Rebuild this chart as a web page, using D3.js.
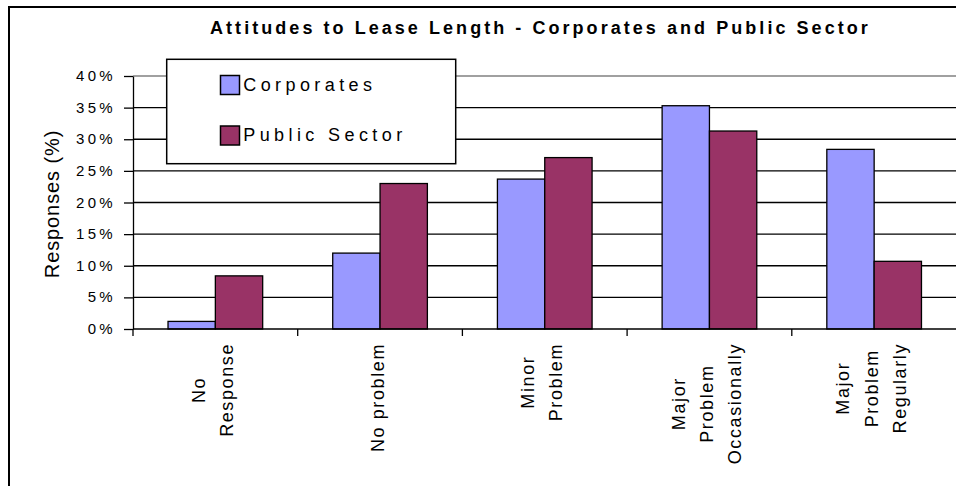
<!DOCTYPE html>
<html>
<head>
<meta charset="utf-8">
<script src="https://cdn.jsdelivr.net/npm/d3@7"></script>
<style>
  html, body { margin: 0; padding: 0; background: #fff; }
  svg { display: block; font-family: "Liberation Sans", Arial, sans-serif; }
</style>
</head>
<body>
<svg id="chart" width="956" height="486"></svg>
<script>
// Survey responses on attitudes to lease length (percent of respondents)
const categories = ["No Response", "No problem", "Minor Problem", "Major Problem Occasionally", "Major Problem Regularly"];
const categoryLines = [["No", "Response"], ["No problem"], ["Minor", "Problem"], ["Major", "Problem", "Occasionally"], ["Major", "Problem", "Regularly"]];
const seriesNames = ["Corporates", "Public Sector"];
const corporates = [1.2, 12.0, 23.7, 35.3, 28.4];
const publicSector = [8.4, 23.0, 27.1, 31.3, 10.7];
const yTicks = [0, 5, 10, 15, 20, 25, 30, 35, 40];
const titleText = "Attitudes to Lease Length - Corporates and Public Sector";
const yTitle = "Responses (%)";

const colors = { "Corporates": "#9999ff", "Public Sector": "#993366" };
const seriesValues = { "Corporates": corporates, "Public Sector": publicSector };

const svg = d3.select("#chart");

// outer chart frame (continues past the right and bottom edges)
svg.append("rect")
  .attr("x", 9).attr("y", 7).attr("width", 1200).attr("height", 1000)
  .attr("fill", "none").attr("stroke", "#000").attr("stroke-width", 2);

// plot area geometry
const plotLeft = 133, plotTop = 76, plotBottom = 329, catStep = 164.7;
const x = d3.scaleBand().domain(categories)
  .range([plotLeft, plotLeft + catStep * categories.length]).padding(0);
const xs = d3.scaleBand().domain(seriesNames)
  .range([0, x.bandwidth()]).paddingInner(0).paddingOuter(0.74);
const y = d3.scaleLinear().domain([0, 40]).range([plotBottom, plotTop]);
const plotRight = x.range()[1];

// horizontal gridlines; the top one is the grey plot-area border
svg.append("g").selectAll("line")
  .data(yTicks.filter(d => d > 0))
  .join("line")
  .attr("x1", plotLeft).attr("x2", plotRight)
  .attr("y1", d => y(d)).attr("y2", d => y(d))
  .attr("stroke", d => d === 40 ? "#808080" : "#000")
  .attr("stroke-width", 1.3);

// bars
const groups = svg.append("g").selectAll("g")
  .data(categories)
  .join("g")
  .attr("transform", d => `translate(${x(d)},0)`);

groups.selectAll("rect")
  .data((c, i) => seriesNames.map(s => ({ s, v: seriesValues[s][i] })))
  .join("rect")
  .attr("x", d => xs(d.s))
  .attr("y", d => y(d.v))
  .attr("width", xs.bandwidth())
  .attr("height", d => y(0) - y(d.v))
  .attr("fill", d => colors[d.s])
  .attr("stroke", "#000")
  .attr("stroke-width", 1.3);

// y axis
const yAxis = svg.append("g")
  .attr("transform", `translate(${plotLeft},0)`)
  .call(d3.axisLeft(y).tickValues(yTicks).tickSize(9).tickSizeOuter(0).tickPadding(8)
    .tickFormat(d => d + "%"));
yAxis.select(".domain").attr("stroke", "#000").attr("stroke-width", 1.3);
yAxis.selectAll(".tick line").attr("stroke", "#000").attr("stroke-width", 1.3);
yAxis.selectAll(".tick text")
  .attr("fill", "#000")
  .attr("font-size", 15)
  .attr("font-family", "'Liberation Sans', Arial, sans-serif")
  .attr("letter-spacing", 3.3)
  .attr("dy", "0.3em");

// x axis line and category boundary ticks
const xAxis = svg.append("g");
xAxis.append("line")
  .attr("x1", plotLeft).attr("x2", plotRight)
  .attr("y1", y(0)).attr("y2", y(0))
  .attr("stroke", "#000").attr("stroke-width", 1.3);
xAxis.selectAll("line.tick")
  .data(categories)
  .join("line")
  .attr("class", "tick")
  .attr("x1", d => x(d)).attr("x2", d => x(d))
  .attr("y1", y(0)).attr("y2", y(0) + 7)
  .attr("stroke", "#000").attr("stroke-width", 1.3);

// rotated, multi-line category labels
const labelFont = 18, labelSpacing = 1.6, lineH = 28.3, labelGap = 14;
categories.forEach((c, i) => {
  const lines = categoryLines[i];
  const cx = x(c) + x.bandwidth() / 2;
  const g = svg.append("g")
    .attr("transform", `translate(${cx},${y(0)}) rotate(-90)`);
  const texts = g.selectAll("text")
    .data(lines)
    .join("text")
    .attr("font-size", labelFont)
    .attr("letter-spacing", labelSpacing)
    .attr("fill", "#000")
    .text(d => d);
  const lens = texts.nodes().map(n => n.getComputedTextLength());
  const maxLen = d3.max(lens);
  texts
    .attr("x", (d, j) => -(labelGap + maxLen / 2 + lens[j] / 2))
    .attr("y", (d, j) => (j - (lines.length - 1) / 2) * lineH + 3.5);
});

// y axis title
svg.append("text")
  .attr("transform", "translate(58.5,204) rotate(-90)")
  .attr("text-anchor", "middle")
  .attr("font-size", 20)
  .attr("letter-spacing", 0.9)
  .attr("fill", "#000")
  .text(yTitle);

// chart title
svg.append("text")
  .attr("x", 210).attr("y", 33.5)
  .attr("font-size", 18)
  .attr("font-weight", "bold")
  .attr("letter-spacing", 3.05)
  .attr("fill", "#000")
  .text(titleText);

// legend
const legend = svg.append("g");
legend.append("rect")
  .attr("x", 166.7).attr("y", 59.3).attr("width", 289).attr("height", 104.4)
  .attr("fill", "#fff").attr("stroke", "#000").attr("stroke-width", 1.5);
const legendRows = [75.5, 126];
const legendItems = legend.selectAll("g.item")
  .data(seriesNames)
  .join("g")
  .attr("class", "item")
  .attr("transform", (d, i) => `translate(0,${legendRows[i]})`);
legendItems.append("rect")
  .attr("x", 220.5).attr("y", 0).attr("width", 19).attr("height", 19)
  .attr("fill", d => colors[d]).attr("stroke", "#000").attr("stroke-width", 1.5);
legendItems.append("text")
  .attr("x", 243.3).attr("y", 15)
  .attr("font-size", 18)
  .attr("letter-spacing", 4.4)
  .attr("fill", "#000")
  .text(d => d);
</script>
</body>
</html>
